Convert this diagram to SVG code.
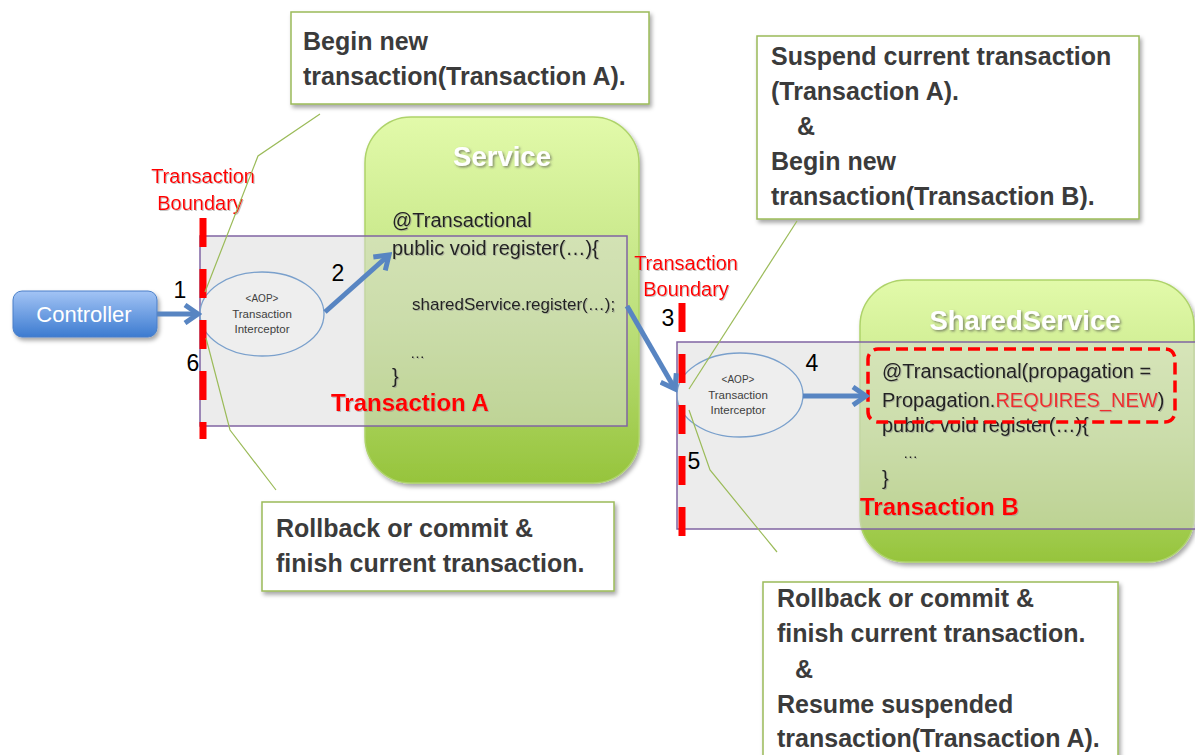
<svg xmlns="http://www.w3.org/2000/svg" width="1195" height="755" viewBox="0 0 1195 755">
<defs>
<linearGradient id="gGreen" x1="0" y1="0" x2="0" y2="1">
<stop offset="0" stop-color="#e2faaa"/>
<stop offset="0.55" stop-color="#bde07c"/>
<stop offset="1" stop-color="#96c43c"/>
</linearGradient>
<linearGradient id="gBlue" x1="0" y1="0" x2="0" y2="1">
<stop offset="0" stop-color="#a3c4f5"/>
<stop offset="1" stop-color="#3c7bd0"/>
</linearGradient>
<filter id="shadow" x="-10%" y="-10%" width="130%" height="140%">
<feDropShadow dx="2" dy="3" stdDeviation="2" flood-color="#000" flood-opacity="0.35"/>
</filter>
<filter id="tshadow" x="-10%" y="-20%" width="130%" height="160%">
<feDropShadow dx="1.5" dy="1.5" stdDeviation="0.8" flood-color="#444" flood-opacity="0.6"/>
</filter>
<filter id="tshadow2" x="-10%" y="-20%" width="130%" height="160%">
<feDropShadow dx="1" dy="1" stdDeviation="0.6" flood-color="#888" flood-opacity="0.5"/>
</filter>
<marker id="arrow" viewBox="-16 -11 20 22" markerWidth="20" markerHeight="22" refX="0" refY="0" orient="auto" markerUnits="userSpaceOnUse">
<path d="M-13,-9 L0,0 L-13,9" fill="none" stroke="#5885c2" stroke-width="5" stroke-linejoin="miter" stroke-linecap="butt"/>
</marker>
</defs>
<style>
.box{fill:url(#gGreen);stroke:#aed36a;stroke-width:1.5;}
.tx{fill:#d9d9d9;fill-opacity:0.5;stroke:#8064a2;stroke-width:1.5;}
.callout{fill:#ffffff;stroke:#9bbb59;stroke-width:1.5;}
.ct{font-family:"Liberation Sans",Arial,sans-serif;font-weight:bold;font-size:25px;fill:#3b3b3b;}
.code{font-family:"Liberation Sans",Arial,sans-serif;font-size:20px;fill:#222;}
.title{font-family:"Liberation Sans",Arial,sans-serif;font-weight:bold;font-size:27.5px;fill:#ffffff;text-anchor:middle;}
.txlabel{font-family:"Liberation Sans",Arial,sans-serif;font-weight:bold;font-size:24px;fill:#ff0000;}
.bnd{font-family:"Liberation Sans",Arial,sans-serif;font-size:20px;fill:#ff0000;text-anchor:middle;}
.num{font-family:"Liberation Sans",Arial,sans-serif;font-size:23px;fill:#000;text-anchor:middle;}
.aop{font-family:"Liberation Sans",Arial,sans-serif;font-size:11.5px;fill:#404040;text-anchor:middle;}
.boundary{stroke:#ff0000;stroke-width:7;stroke-dasharray:29 22;fill:none;}
.lead{stroke:#9bbb59;stroke-width:1.2;fill:none;}
.flow{stroke:#5885c2;stroke-width:5;fill:none;marker-end:url(#arrow);}
.ell{fill:#f2f2f2;fill-opacity:0.4;stroke:#7aa0cc;stroke-width:1.3;}
</style>

<g id="service">
<rect class="box" x="365" y="117" width="274" height="366" rx="46" filter="url(#shadow)"/>
<text class="title" x="502" y="166" filter="url(#tshadow)">Service</text>
</g>

<g id="shared-service">
<rect class="box" x="860" y="280" width="334" height="282" rx="46" filter="url(#shadow)"/>
<text class="title" x="1025" y="330" filter="url(#tshadow)">SharedService</text>
</g>

<g id="transaction-a">
<rect class="tx" x="200" y="236" width="427" height="190"/>
</g>

<g id="transaction-b">
<rect class="tx" x="677" y="342" width="520" height="187"/>
</g>

<g id="service-code" filter="url(#tshadow2)">
<text class="code" x="392" y="227">@Transactional</text>
<text class="code" x="392" y="255">public void register(…){</text>
<text class="code" x="412" y="310" style="font-size:17px">sharedService.register(…);</text>
<text class="code" x="410" y="358" style="font-size:15px">…</text>
<text class="code" x="392" y="383">}</text>
</g>
<text id="label-transaction-a" class="txlabel" x="331" y="411" filter="url(#tshadow2)">Transaction A</text>

<g id="shared-code" filter="url(#tshadow2)">
<text class="code" x="882" y="378">@Transactional(propagation =</text>
<text class="code" x="882" y="407">Propagation.<tspan fill="#ee2f2f">REQUIRES_NEW</tspan>)</text>
<text class="code" x="882" y="432">public void register(…){</text>
<text class="code" x="903" y="458" style="font-size:15px">…</text>
<text class="code" x="882" y="485">}</text>
</g>
<rect id="requires-new-highlight" x="868" y="349" width="307" height="73" rx="10" fill="none" stroke="#ff0000" stroke-width="3.5" stroke-dasharray="12 6"/>
<text id="label-transaction-b" class="txlabel" x="860" y="515" filter="url(#tshadow2)">Transaction B</text>

<g id="controller">
<rect x="13" y="291" width="144" height="46" rx="9" fill="url(#gBlue)" stroke="#4a7fc8" stroke-width="1" filter="url(#shadow)"/>
<text x="84" y="322" font-family="'Liberation Sans',Arial,sans-serif" font-size="22" fill="#ffffff" text-anchor="middle">Controller</text>
</g>

<g id="interceptor-1">
<ellipse class="ell" cx="262" cy="314" rx="62" ry="42"/>
<text class="aop" x="262" y="302" style="font-size:10px">&lt;AOP&gt;</text>
<text class="aop" x="262" y="318">Transaction</text>
<text class="aop" x="262" y="333">Interceptor</text>
</g>

<g id="interceptor-2">
<ellipse class="ell" cx="740" cy="395" rx="63" ry="42"/>
<text class="aop" x="738" y="383" style="font-size:10px">&lt;AOP&gt;</text>
<text class="aop" x="738" y="399">Transaction</text>
<text class="aop" x="738" y="414">Interceptor</text>
</g>

<g id="boundary-1">
<line class="boundary" x1="203" y1="218" x2="203" y2="439"/>
<text class="bnd" x="203" y="183" filter="url(#tshadow2)">Transaction</text>
<text class="bnd" x="200" y="210" filter="url(#tshadow2)">Boundary</text>
</g>

<g id="boundary-2">
<line class="boundary" x1="682" y1="303" x2="682" y2="538"/>
<text class="bnd" x="686" y="270" filter="url(#tshadow2)">Transaction</text>
<text class="bnd" x="686" y="296" filter="url(#tshadow2)">Boundary</text>
</g>

<g id="callout-begin-a">
<rect class="callout" x="291" y="12" width="358" height="92" filter="url(#shadow)"/>
<text class="ct" x="303" y="50">Begin new</text>
<text class="ct" x="303" y="85">transaction(Transaction A).</text>
</g>

<g id="callout-suspend">
<rect class="callout" x="757" y="36" width="382" height="183" filter="url(#shadow)"/>
<text class="ct" x="771" y="65">Suspend current transaction</text>
<text class="ct" x="771" y="100">(Transaction A).</text>
<text class="ct" x="797" y="135">&amp;</text>
<text class="ct" x="771" y="170">Begin new</text>
<text class="ct" x="771" y="205">transaction(Transaction B).</text>
</g>

<g id="callout-finish-a">
<rect class="callout" x="262" y="502" width="352" height="89" filter="url(#shadow)"/>
<text class="ct" x="276" y="537">Rollback or commit &amp;</text>
<text class="ct" x="276" y="572">finish current transaction.</text>
</g>

<g id="callout-finish-b">
<rect class="callout" x="763" y="582" width="355" height="185" filter="url(#shadow)"/>
<text class="ct" x="777" y="607">Rollback or commit &amp;</text>
<text class="ct" x="777" y="642">finish current transaction.</text>
<text class="ct" x="795" y="678">&amp;</text>
<text class="ct" x="777" y="713">Resume suspended</text>
<text class="ct" x="777" y="747">transaction(Transaction A).</text>
</g>

<g id="connectors">
<polyline class="lead" points="320,114 258,156 205,292"/>
<polyline class="lead" points="206,338 230,430 276,490"/>
<polyline class="lead" points="797,221 689,389"/>
<polyline class="lead" points="689,410 710,470 777,552"/>
<line class="flow" x1="157" y1="314" x2="198" y2="314"/>
<line class="flow" x1="325" y1="312" x2="389" y2="255"/>
<line class="flow" x1="627" y1="306" x2="675" y2="389"/>
<line class="flow" x1="803" y1="396" x2="866" y2="396"/>
<text class="num" x="180" y="298">1</text>
<text class="num" x="338" y="281">2</text>
<text class="num" x="668" y="326">3</text>
<text class="num" x="812" y="371">4</text>
<text class="num" x="694" y="469">5</text>
<text class="num" x="193" y="371">6</text>
</g>
</svg>
